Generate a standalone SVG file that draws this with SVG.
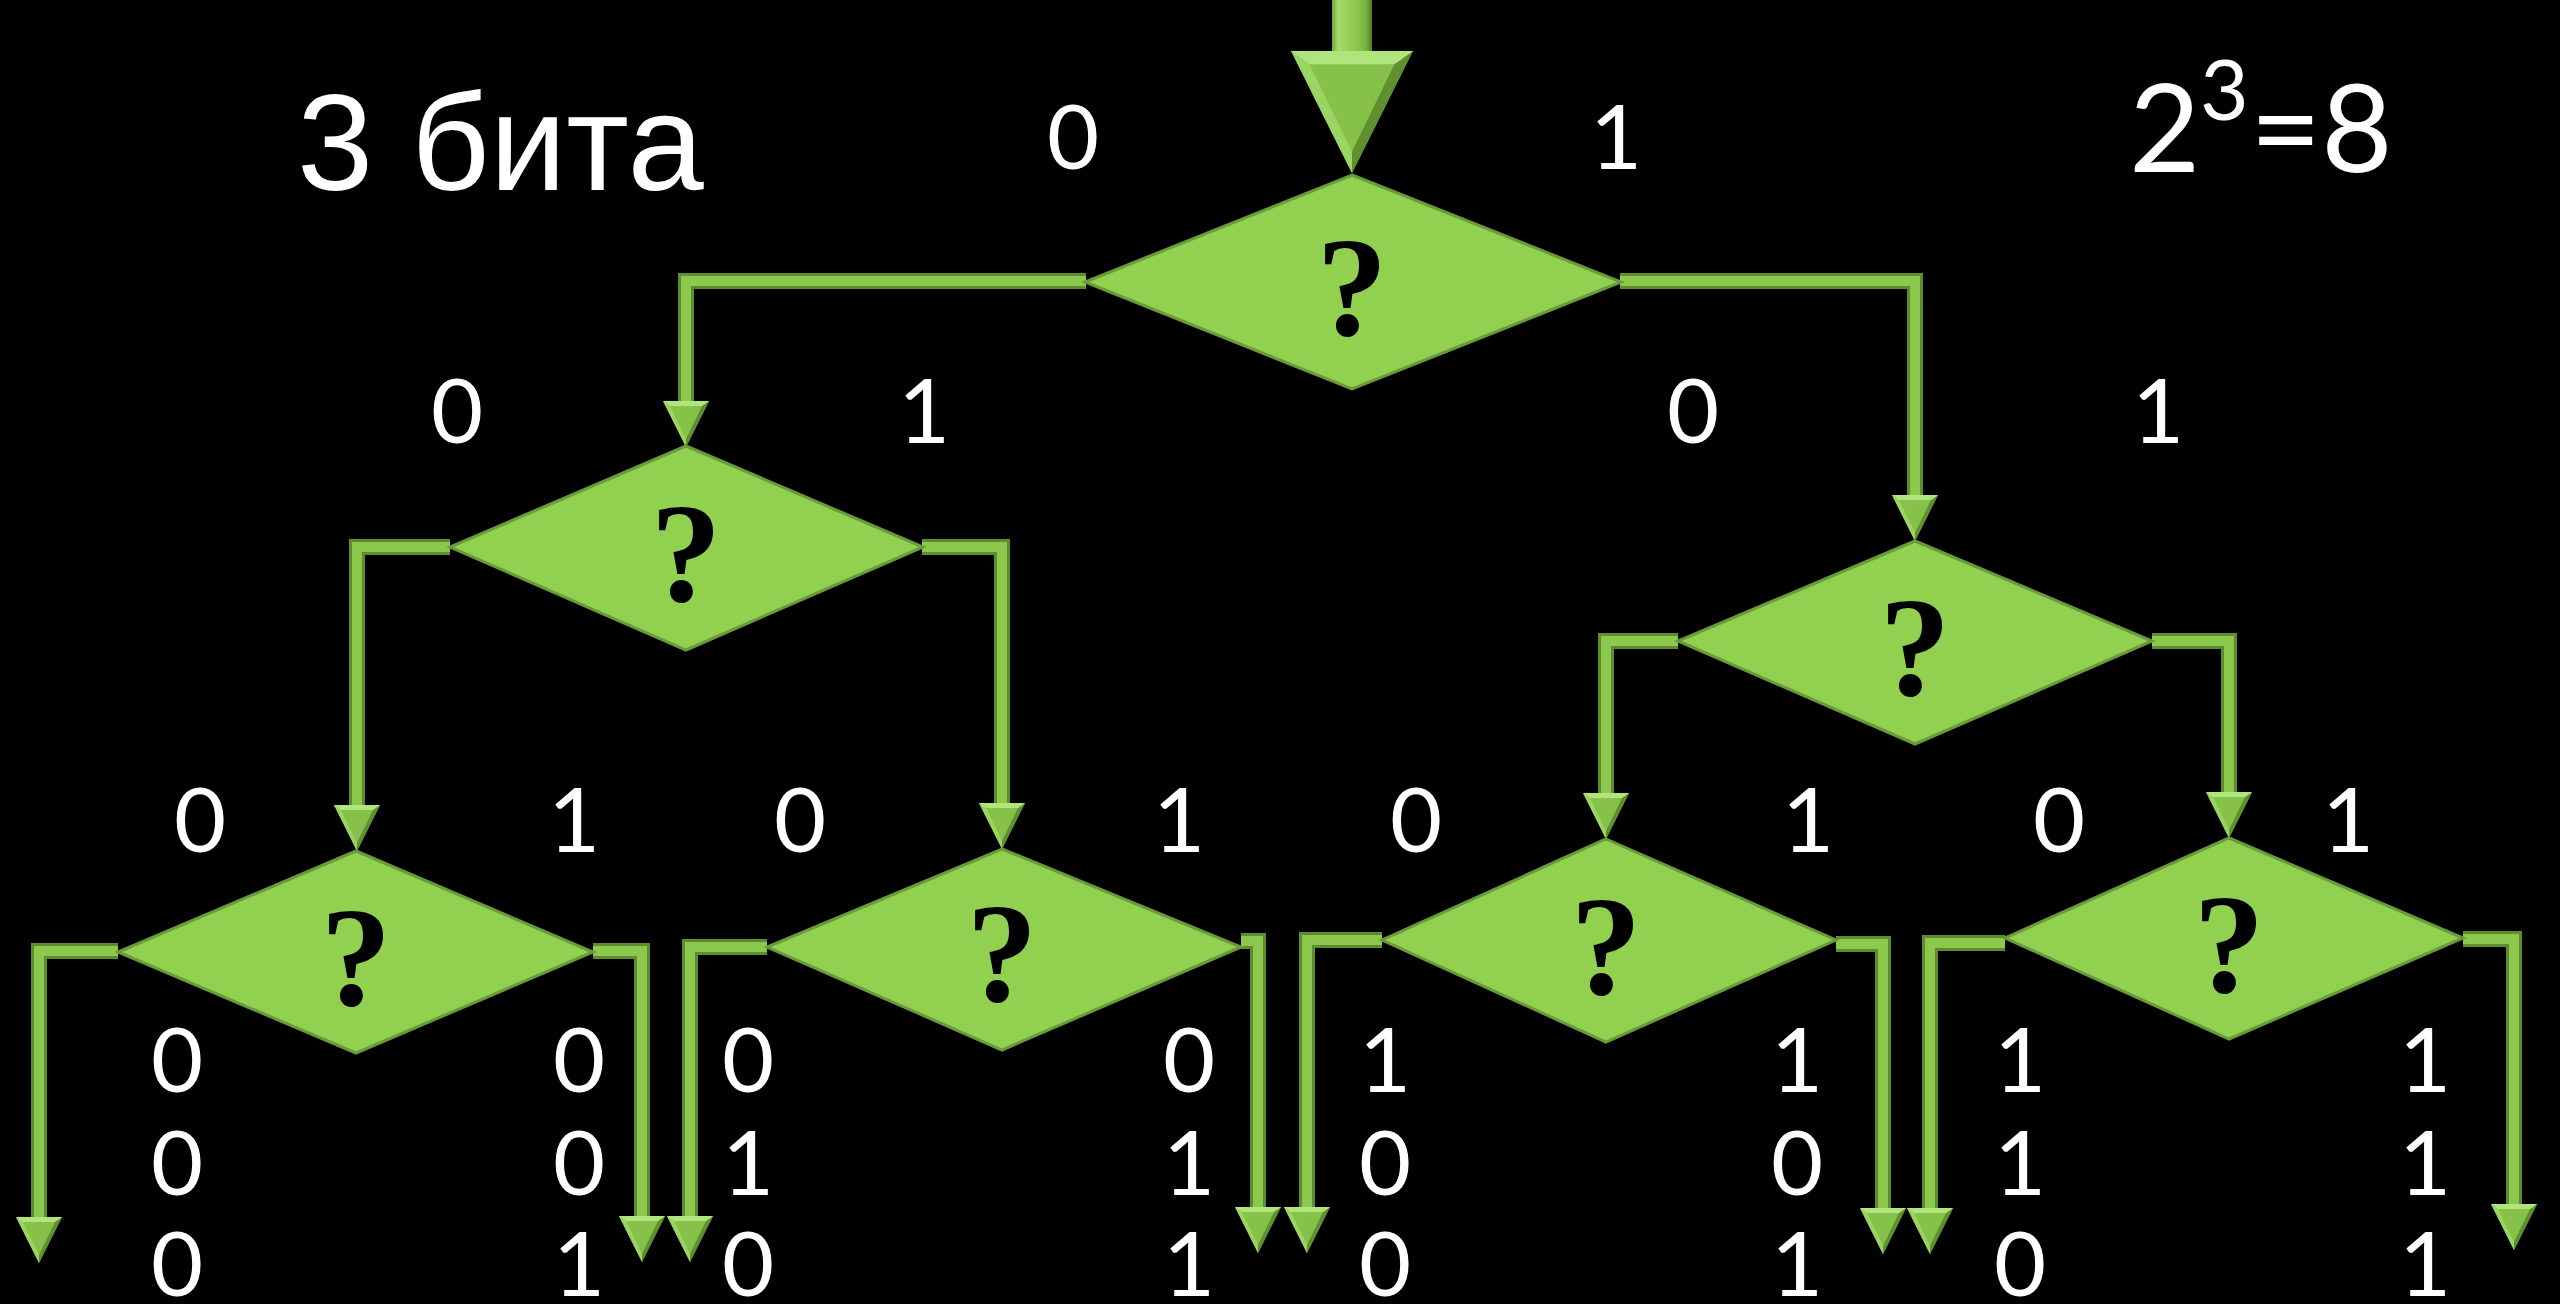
<svg xmlns="http://www.w3.org/2000/svg" xmlns:xlink="http://www.w3.org/1999/xlink" width="2560" height="1304" viewBox="0 0 2560 1304">
<style>
.bg{fill:#000}
.dia{fill:#92d050;stroke:#6a9b38;stroke-width:3;stroke-linejoin:miter}
.q{font-family:"Liberation Serif","Times New Roman",serif;font-weight:bold;font-size:142px;fill:#000;text-anchor:middle}
.lb{font-family:Lato,"Liberation Sans",sans-serif;font-size:90px;fill:#fff;text-anchor:middle}
.title{font-family:"Liberation Sans",Arial,sans-serif;font-size:137px;fill:#fff}
.hd{font-family:Lato,"Liberation Sans",sans-serif;font-size:123px;fill:#fff}
.wo{fill:none;stroke:#5c8e2e;stroke-width:16;stroke-linejoin:miter}
.wi{fill:none;stroke:#8cc84d;stroke-width:10;stroke-linejoin:miter}
.wh{fill:none;stroke:#a9de70;stroke-width:3;stroke-linejoin:miter}
</style>
<defs>
<linearGradient id="gs" x1="0" y1="0" x2="1" y2="0">
<stop offset="0" stop-color="#6fa83a"/>
<stop offset="0.15" stop-color="#a6dc6a"/>
<stop offset="0.6" stop-color="#8cc84d"/>
<stop offset="0.85" stop-color="#78b23f"/>
<stop offset="1" stop-color="#4f7a25"/>
</linearGradient>
<g id="ah">
<polygon points="-23,-46 23,-46 0,0" fill="#86c149"/>
<polygon points="-23,-46 -16,-41 0,-8 0,0" fill="#9bd561"/>
<polygon points="23,-46 16,-41 0,-8 0,0" fill="#5e902f"/>
<polygon points="-23,-46 23,-46 16,-41 -16,-41" fill="#b0e47c"/>
</g>
</defs>
<rect class="bg" x="0" y="0" width="2560" height="1304"/>

<g id="connectors">
<g id="e0">
<rect x="1332" y="0" width="40" height="60" fill="url(#gs)"/>
<use xlink:href="#ah" transform="translate(1352,173) scale(2.65)"/>
</g>
<g id="e1"><path class="wo" d="M1086 281 H686 V404"/><path class="wi" d="M1086 281 H686 V404"/><use xlink:href="#ah" x="686" y="447"/></g>
<g id="e2"><path class="wo" d="M1620 281 H1915 V498"/><path class="wi" d="M1620 281 H1915 V498"/><use xlink:href="#ah" x="1915" y="541"/></g>
<g id="e3"><path class="wo" d="M450 547 H357 V808"/><path class="wi" d="M450 547 H357 V808"/><use xlink:href="#ah" x="357" y="851"/></g>
<g id="e4"><path class="wo" d="M922 547 H1002 V806"/><path class="wi" d="M922 547 H1002 V806"/><use xlink:href="#ah" x="1002" y="849"/></g>
<g id="e5"><path class="wo" d="M1678 641 H1606 V796"/><path class="wi" d="M1678 641 H1606 V796"/><use xlink:href="#ah" x="1606" y="839"/></g>
<g id="e6"><path class="wo" d="M2152 641 H2229 V795"/><path class="wi" d="M2152 641 H2229 V795"/><use xlink:href="#ah" x="2229" y="838"/></g>
<g id="e7"><path class="wo" d="M118 951 H39 V1220"/><path class="wi" d="M118 951 H39 V1220"/><use xlink:href="#ah" x="39" y="1263"/></g>
<g id="e8"><path class="wo" d="M593 951 H642 V1219"/><path class="wi" d="M593 951 H642 V1219"/><use xlink:href="#ah" x="642" y="1262"/></g>
<g id="e9"><path class="wo" d="M767 947 H690 V1219"/><path class="wi" d="M767 947 H690 V1219"/><use xlink:href="#ah" x="690" y="1262"/></g>
<g id="e10"><path class="wo" d="M1241 941 H1258 V1210"/><path class="wi" d="M1241 941 H1258 V1210"/><use xlink:href="#ah" x="1258" y="1253"/></g>
<g id="e11"><path class="wo" d="M1382 940 H1307 V1210"/><path class="wi" d="M1382 940 H1307 V1210"/><use xlink:href="#ah" x="1307" y="1253"/></g>
<g id="e12"><path class="wo" d="M1836 944 H1883 V1211"/><path class="wi" d="M1836 944 H1883 V1211"/><use xlink:href="#ah" x="1883" y="1254"/></g>
<g id="e13"><path class="wo" d="M2005 943 H1930 V1211"/><path class="wi" d="M2005 943 H1930 V1211"/><use xlink:href="#ah" x="1930" y="1254"/></g>
<g id="e14"><path class="wo" d="M2463 939 H2514 V1207"/><path class="wi" d="M2463 939 H2514 V1207"/><use xlink:href="#ah" x="2514" y="1250"/></g>
</g>

<g id="n-root"><polygon class="dia" points="1352,175 1621,282 1352,389 1085,282"/><text class="q" x="1352" y="335">?</text></g>
<g id="n-0"><polygon class="dia" points="686,446 923,547 686,650 450,547"/><text class="q" x="686" y="601">?</text></g>
<g id="n-1"><polygon class="dia" points="1915,541 2152,641 1915,744 1678,641"/><text class="q" x="1915" y="695">?</text></g>
<g id="n-00"><polygon class="dia" points="356,851 593,952 356,1053 118,952"/><text class="q" x="356" y="1005">?</text></g>
<g id="n-01"><polygon class="dia" points="1002,849 1241,947 1002,1050 767,947"/><text class="q" x="1002" y="1001">?</text></g>
<g id="n-10"><polygon class="dia" points="1606,839 1836,940 1606,1042 1382,940"/><text class="q" x="1606" y="994">?</text></g>
<g id="n-11"><polygon class="dia" points="2229,838 2463,938 2229,1039 2005,938"/><text class="q" x="2229" y="992">?</text></g>

<g id="labels">
<text class="title" x="297" y="190">3 бита</text>
<text class="hd" x="2129" y="172">2<tspan x="2200" y="120" font-size="84">3</tspan><tspan x="2250" y="172">=8</tspan></text>

<text class="lb" x="1073" y="169">0</text>
<text class="lb" x="1616" y="169">1</text>

<text class="lb" x="457" y="443">0</text>
<text class="lb" x="924" y="443">1</text>
<text class="lb" x="1693" y="443">0</text>
<text class="lb" x="2158" y="443">1</text>

<text class="lb" x="200" y="852">0</text>
<text class="lb" x="574" y="852">1</text>
<text class="lb" x="800" y="852">0</text>
<text class="lb" x="1179" y="852">1</text>
<text class="lb" x="1416" y="852">0</text>
<text class="lb" x="1808" y="852">1</text>
<text class="lb" x="2059" y="852">0</text>
<text class="lb" x="2348" y="852">1</text>

<text class="lb" x="177" y="1092">0</text><text class="lb" x="177" y="1195">0</text><text class="lb" x="177" y="1296">0</text>
<text class="lb" x="579" y="1092">0</text><text class="lb" x="579" y="1195">0</text><text class="lb" x="579" y="1296">1</text>
<text class="lb" x="748" y="1092">0</text><text class="lb" x="748" y="1195">1</text><text class="lb" x="748" y="1296">0</text>
<text class="lb" x="1189" y="1092">0</text><text class="lb" x="1189" y="1195">1</text><text class="lb" x="1189" y="1296">1</text>
<text class="lb" x="1385" y="1092">1</text><text class="lb" x="1385" y="1195">0</text><text class="lb" x="1385" y="1296">0</text>
<text class="lb" x="1797" y="1092">1</text><text class="lb" x="1797" y="1195">0</text><text class="lb" x="1797" y="1296">1</text>
<text class="lb" x="2020" y="1092">1</text><text class="lb" x="2020" y="1195">1</text><text class="lb" x="2020" y="1296">0</text>
<text class="lb" x="2425" y="1092">1</text><text class="lb" x="2425" y="1195">1</text><text class="lb" x="2425" y="1296">1</text>
</g>
</svg>
